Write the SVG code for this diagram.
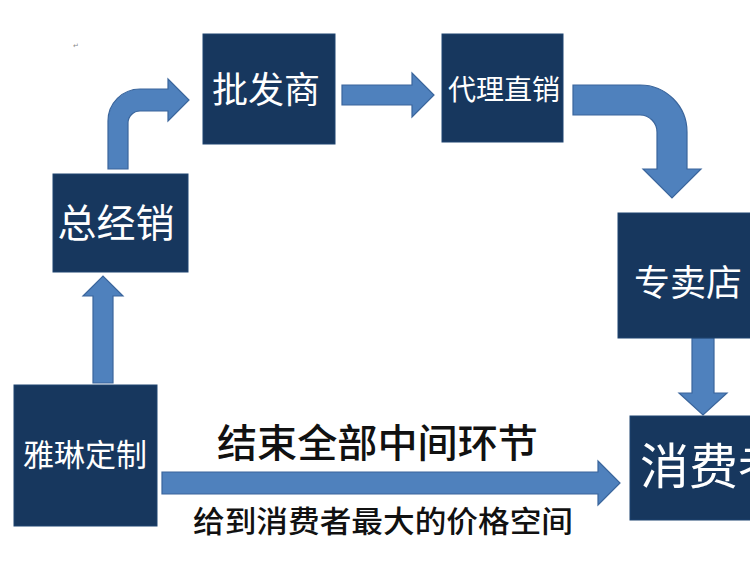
<svg xmlns="http://www.w3.org/2000/svg" width="750" height="566" viewBox="0 0 750 566">
<style>
.box{fill:#17375e;stroke:#1f4470;stroke-width:1}
.arr{fill:#4f81bd;stroke:#3a659c;stroke-width:1.2;stroke-linejoin:miter}
.lbl{font-family:"Noto Sans CJK SC","Noto Sans CJK JP",sans-serif;fill:#ffffff}
.cap{font-family:"Noto Sans CJK SC","Noto Sans CJK JP",sans-serif;fill:#111111;font-weight:500}
</style>
<rect width="750" height="566" fill="#ffffff"/>
<text x="73" y="48" font-family="DejaVu Sans, sans-serif" font-size="7" fill="#8a8a8a">↵</text>
<g id="connectors">
<path class="arr" d="M108,169 L108,121 A32,32 0 0 1 140,89 L168,89 L168,79 L189,100 L168,121 L168,111 L140,111 A12,12 0 0 0 128,123 L128,169 Z"/>
<path class="arr" d="M342,85 L412,85 L412,73 L434,95 L412,117 L412,105 L342,105 Z"/>
<path class="arr" d="M573,85 L640,85 A47,47 0 0 1 687,132 L687,169 L701,169 L672,198 L643,169 L657,169 L657,132 A17,17 0 0 0 640,115 L573,115 Z"/>
<path class="arr" d="M93,383 L93,296 L83,296 L103,276 L123,296 L113,296 L113,383 Z"/>
<path class="arr" d="M692,338 L692,393 L679,393 L703,415 L727,393 L714,393 L714,338 Z"/>
<path class="arr" d="M162,472 L598,472 L598,461 L620,483 L598,505 L598,494 L162,494 Z"/>
</g>
<g id="node-pifashang">
<rect class="box" x="203" y="34" width="132" height="110"/>
<text class="lbl" x="266" y="103" font-size="36" text-anchor="middle">批发商</text>
</g>
<g id="node-daili">
<rect class="box" x="442" y="34" width="121" height="108"/>
<text class="lbl" x="504" y="100" font-size="28" text-anchor="middle">代理直销</text>
</g>
<g id="node-zongjingxiao">
<rect class="box" x="53" y="174" width="135" height="98"/>
<text class="lbl" x="116" y="237" font-size="39" text-anchor="middle">总经销</text>
</g>
<g id="node-zhuanmaidian">
<rect class="box" x="618" y="213" width="140" height="125"/>
<text class="lbl" x="634" y="296" font-size="36">专卖店</text>
</g>
<g id="node-xiaofeizhe">
<rect class="box" x="630" y="416" width="130" height="104"/>
<text class="lbl" x="640" y="484" font-size="49">消费者</text>
</g>
<g id="node-yalin">
<rect class="box" x="14" y="385" width="143" height="141"/>
<text class="lbl" x="85" y="466" font-size="31" text-anchor="middle">雅琳定制</text>
</g>
<g id="captions">
<text class="cap" x="217" y="457" font-size="39" textLength="321" lengthAdjust="spacingAndGlyphs">结束全部中间环节</text>
<text class="cap" x="193" y="532" font-size="30" textLength="380" lengthAdjust="spacingAndGlyphs">给到消费者最大的价格空间</text>
</g>
</svg>
